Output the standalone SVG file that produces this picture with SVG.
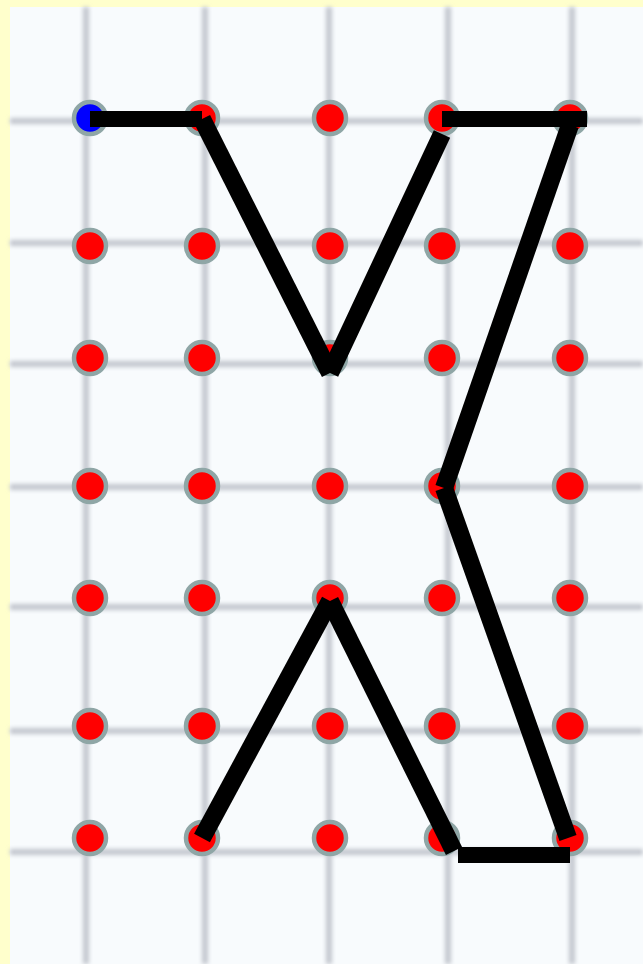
<svg xmlns="http://www.w3.org/2000/svg" width="643" height="964" viewBox="0 0 643 964">
  <defs>
    <filter id="blur" x="-5%" y="-5%" width="110%" height="110%">
      <feGaussianBlur stdDeviation="2.2"/>
    </filter>
    <style>
      .grid line { stroke: #c2c6ce; stroke-width: 6; }
      .dot { fill: #ff0000; stroke: #8fa6a6; stroke-width: 4.5; }
      .start { fill: #0000ff; }
      .edge { stroke: #000000; stroke-linecap: butt; fill: none; }
      .h { stroke-width: 16; }
      .d { stroke-width: 18; }
    </style>
  </defs>
  <rect x="0" y="0" width="643" height="964" fill="#ffffcc"/>
  <rect x="10" y="7" width="633" height="957" fill="#f8fbfd"/>
  <g class="grid" filter="url(#blur)">
    <line x1="86" y1="7" x2="86" y2="964"/>
    <line x1="205" y1="7" x2="205" y2="964"/>
    <line x1="329" y1="7" x2="329" y2="964"/>
    <line x1="448" y1="7" x2="448" y2="964"/>
    <line x1="572" y1="7" x2="572" y2="964"/>
    <line x1="10" y1="121" x2="643" y2="121"/>
    <line x1="10" y1="243" x2="643" y2="243"/>
    <line x1="10" y1="364" x2="643" y2="364"/>
    <line x1="10" y1="487" x2="643" y2="487"/>
    <line x1="10" y1="607" x2="643" y2="607"/>
    <line x1="10" y1="731" x2="643" y2="731"/>
    <line x1="10" y1="852" x2="643" y2="852"/>
  </g>
  <g id="dots">
    <circle id="n-0-0" class="dot start" cx="90" cy="118" r="16"/>
    <circle id="n-1-0" class="dot" cx="202" cy="118" r="16"/>
    <circle id="n-2-0" class="dot" cx="330" cy="118" r="16"/>
    <circle id="n-3-0" class="dot" cx="442" cy="118" r="16"/>
    <circle id="n-4-0" class="dot" cx="570" cy="118" r="16"/>
    <circle id="n-0-1" class="dot" cx="90" cy="246" r="16"/>
    <circle id="n-1-1" class="dot" cx="202" cy="246" r="16"/>
    <circle id="n-2-1" class="dot" cx="330" cy="246" r="16"/>
    <circle id="n-3-1" class="dot" cx="442" cy="246" r="16"/>
    <circle id="n-4-1" class="dot" cx="570" cy="246" r="16"/>
    <circle id="n-0-2" class="dot" cx="90" cy="358" r="16"/>
    <circle id="n-1-2" class="dot" cx="202" cy="358" r="16"/>
    <circle id="n-2-2" class="dot" cx="330" cy="358" r="16"/>
    <circle id="n-3-2" class="dot" cx="442" cy="358" r="16"/>
    <circle id="n-4-2" class="dot" cx="570" cy="358" r="16"/>
    <circle id="n-0-3" class="dot" cx="90" cy="486" r="16"/>
    <circle id="n-1-3" class="dot" cx="202" cy="486" r="16"/>
    <circle id="n-2-3" class="dot" cx="330" cy="486" r="16"/>
    <circle id="n-3-3" class="dot" cx="442" cy="486" r="16"/>
    <circle id="n-4-3" class="dot" cx="570" cy="486" r="16"/>
    <circle id="n-0-4" class="dot" cx="90" cy="598" r="16"/>
    <circle id="n-1-4" class="dot" cx="202" cy="598" r="16"/>
    <circle id="n-2-4" class="dot" cx="330" cy="598" r="16"/>
    <circle id="n-3-4" class="dot" cx="442" cy="598" r="16"/>
    <circle id="n-4-4" class="dot" cx="570" cy="598" r="16"/>
    <circle id="n-0-5" class="dot" cx="90" cy="726" r="16"/>
    <circle id="n-1-5" class="dot" cx="202" cy="726" r="16"/>
    <circle id="n-2-5" class="dot" cx="330" cy="726" r="16"/>
    <circle id="n-3-5" class="dot" cx="442" cy="726" r="16"/>
    <circle id="n-4-5" class="dot" cx="570" cy="726" r="16"/>
    <circle id="n-0-6" class="dot" cx="90" cy="838" r="16"/>
    <circle id="n-1-6" class="dot" cx="202" cy="838" r="16"/>
    <circle id="n-2-6" class="dot" cx="330" cy="838" r="16"/>
    <circle id="n-3-6" class="dot" cx="442" cy="838" r="16"/>
    <circle id="n-4-6" class="dot" cx="570" cy="838" r="16"/>
  </g>
  <g id="connectors">
    <line class="edge h" x1="90" y1="119" x2="202" y2="119"/>
    <line class="edge d" x1="202" y1="119" x2="330" y2="373"/>
    <line class="edge d" x1="330" y1="373" x2="442" y2="134"/>
    <line class="edge h" x1="442" y1="119" x2="587" y2="119"/>
    <line class="edge d" x1="570" y1="125" x2="444" y2="488"/>
    <line class="edge d" x1="444" y1="488" x2="568" y2="838"/>
    <line class="edge h" x1="458" y1="855" x2="570" y2="855"/>
    <line class="edge d" x1="454" y1="851" x2="330" y2="601"/>
    <line class="edge d" x1="330" y1="601" x2="202" y2="838"/>
  </g>
</svg>
